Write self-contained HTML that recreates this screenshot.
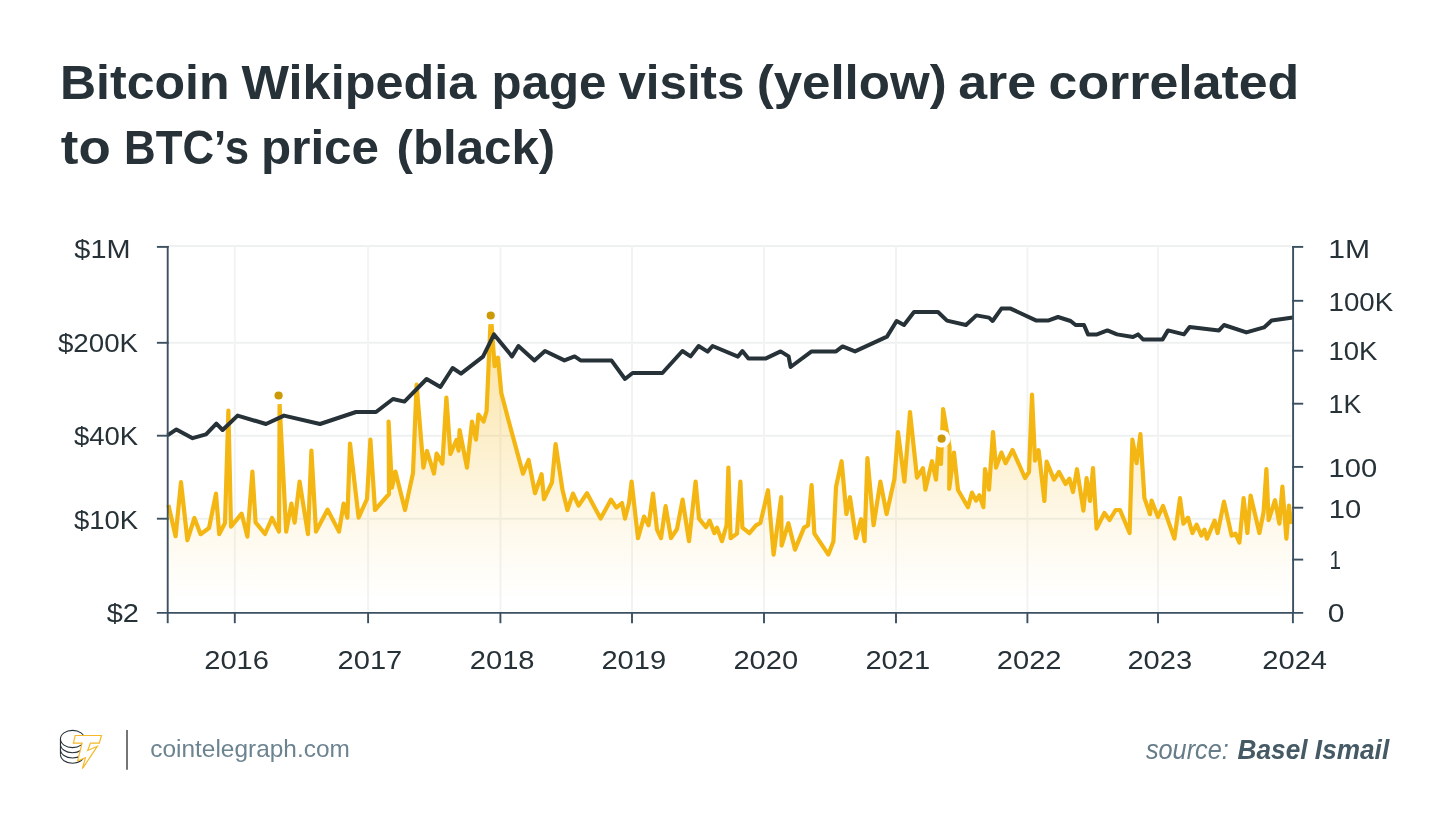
<!DOCTYPE html>
<html><head><meta charset="utf-8"><title>Bitcoin Wikipedia page visits</title><style>html,body{margin:0;padding:0;background:#fff}svg{display:block;will-change:transform}text{font-family:"Liberation Sans",sans-serif}</style></head><body>
<svg width="1450" height="830" viewBox="0 0 1450 830">
<defs><linearGradient id="g" x1="0" y1="325" x2="0" y2="600" gradientUnits="userSpaceOnUse"><stop offset="0" stop-color="#f4b612" stop-opacity="0.40"/><stop offset="0.527" stop-color="#f4b612" stop-opacity="0.17"/><stop offset="0.782" stop-color="#f4b612" stop-opacity="0.065"/><stop offset="1" stop-color="#f4b612" stop-opacity="0"/></linearGradient></defs>
<rect width="1450" height="830" fill="#fff"/>
<g stroke-width="2" fill="none">
<line x1="167.7" y1="246.1" x2="1291.5" y2="246.1" stroke="#eff1f1"/>
<line x1="167.7" y1="342.8" x2="1291.5" y2="342.8" stroke="#eff1f1"/>
<line x1="167.7" y1="435.7" x2="1291.5" y2="435.7" stroke="#eff1f1"/>
<line x1="167.7" y1="518.7" x2="1291.5" y2="518.7" stroke="#eff1f1"/>
<line x1="234.8" y1="246.1" x2="234.8" y2="612.9" stroke="#f2f3f3"/>
<line x1="368.1" y1="246.1" x2="368.1" y2="612.9" stroke="#f2f3f3"/>
<line x1="500.4" y1="246.1" x2="500.4" y2="612.9" stroke="#f2f3f3"/>
<line x1="632.0" y1="246.1" x2="632.0" y2="612.9" stroke="#f2f3f3"/>
<line x1="764.0" y1="246.1" x2="764.0" y2="612.9" stroke="#f2f3f3"/>
<line x1="896.0" y1="246.1" x2="896.0" y2="612.9" stroke="#f2f3f3"/>
<line x1="1027.4" y1="246.1" x2="1027.4" y2="612.9" stroke="#f2f3f3"/>
<line x1="1158.0" y1="246.1" x2="1158.0" y2="612.9" stroke="#f2f3f3"/>
</g>
<path d="M168.4,612.9 L168.4,505.0 L175.6,536.2 L181.0,482.2 L187.4,540.2 L194.4,518.0 L200.6,534.2 L209.0,528.0 L216.0,493.6 L219.2,534.2 L225.0,523.0 L228.4,410.6 L231.0,526.6 L241.6,513.6 L247.4,536.6 L252.4,471.6 L255.6,522.4 L265.0,534.0 L272.0,518.0 L279.0,531.6 L279.6,404.4 L286.2,531.6 L291.4,503.6 L294.6,522.6 L299.6,481.6 L308.0,534.2 L311.4,450.6 L316.0,531.6 L327.6,509.6 L339.0,531.6 L343.6,503.6 L347.4,517.6 L350.0,443.6 L358.6,517.6 L367.0,499.0 L370.4,439.6 L375.0,510.0 L389.0,494.0 L388.6,421.6 L392.0,487.6 L395.4,471.6 L405.0,510.0 L413.0,473.0 L416.6,384.6 L423.4,467.6 L427.0,451.0 L434.0,473.6 L436.6,453.6 L442.4,463.6 L446.4,397.6 L450.4,454.0 L456.4,440.0 L458.6,450.6 L459.6,430.0 L467.0,467.6 L472.0,421.6 L476.0,439.6 L478.4,414.6 L483.6,421.6 L486.6,411.0 L490.4,325.0 L491.6,325.0 L494.6,366.1 L498.0,357.6 L501.3,393.0 L508.4,420.0 L523.0,473.6 L528.6,460.0 L535.0,493.2 L541.6,474.2 L544.0,499.2 L552.0,482.4 L555.6,444.0 L562.4,489.4 L567.4,510.0 L573.0,493.6 L578.6,505.6 L587.0,493.2 L600.6,518.6 L611.0,499.6 L616.4,507.6 L622.0,503.0 L625.0,518.6 L629.0,503.0 L631.6,481.6 L638.0,538.2 L644.0,516.6 L648.6,525.2 L653.0,493.6 L657.0,529.6 L661.0,538.2 L665.6,506.2 L671.0,538.2 L677.0,529.0 L682.6,499.6 L689.0,541.2 L695.6,481.6 L699.0,518.6 L706.0,527.2 L709.6,520.6 L714.4,533.2 L717.0,527.6 L722.0,541.2 L726.6,525.0 L728.4,467.6 L730.6,538.2 L737.0,533.6 L740.4,481.6 L742.4,527.6 L749.4,533.2 L756.0,525.4 L760.4,523.0 L768.0,490.2 L773.6,554.6 L781.2,497.2 L781.6,545.6 L788.4,523.2 L795.0,549.6 L804.0,527.6 L808.0,525.4 L811.6,485.2 L814.4,533.6 L828.4,554.6 L833.4,541.6 L836.0,487.0 L841.6,461.2 L846.4,514.0 L850.0,497.2 L856.0,538.2 L861.0,519.2 L864.6,541.2 L867.4,458.0 L873.6,525.2 L880.4,481.6 L886.6,514.0 L894.4,479.0 L898.0,432.0 L904.4,481.6 L910.0,412.2 L917.0,477.6 L923.0,468.2 L925.4,489.6 L932.0,461.2 L936.0,479.6 L938.8,441.6 L941.0,464.0 L943.1,409.2 L949.6,447.0 L949.2,488.8 L954.0,452.6 L958.0,490.0 L968.0,507.2 L972.0,492.6 L976.0,500.6 L979.4,495.2 L983.4,507.2 L985.0,469.0 L989.0,489.6 L993.0,432.0 L996.0,467.6 L1001.4,452.6 L1005.6,463.2 L1012.6,450.0 L1025.0,478.0 L1029.0,472.0 L1032.0,394.6 L1035.0,460.6 L1038.6,450.2 L1044.4,501.0 L1046.6,461.6 L1054.0,479.6 L1059.0,472.0 L1065.6,484.0 L1069.4,478.6 L1073.0,492.0 L1077.0,469.2 L1083.4,510.6 L1086.6,478.2 L1090.0,501.0 L1093.0,468.2 L1096.6,528.6 L1104.4,513.0 L1109.6,520.0 L1115.6,510.0 L1120.0,510.0 L1129.6,533.0 L1132.4,439.6 L1136.6,463.2 L1140.4,434.2 L1144.4,498.0 L1150.0,514.2 L1151.6,500.6 L1158.0,517.0 L1163.0,506.0 L1174.4,538.6 L1180.0,498.2 L1183.4,523.6 L1188.0,517.6 L1192.4,533.0 L1196.6,524.6 L1201.4,535.6 L1204.4,529.6 L1207.0,538.6 L1214.6,520.6 L1217.6,533.0 L1224.0,501.6 L1231.6,535.6 L1235.4,533.6 L1239.4,542.6 L1243.6,498.2 L1247.4,533.0 L1250.6,495.6 L1259.4,533.0 L1263.6,512.0 L1266.4,469.2 L1268.6,520.2 L1275.0,500.2 L1279.4,523.6 L1282.4,486.6 L1286.4,538.6 L1289.0,505.6 L1291.0,524.0 L1291.0,612.9 Z" fill="url(#g)"/>
<polyline points="168.4,505.0 175.6,536.2 181.0,482.2 187.4,540.2 194.4,518.0 200.6,534.2 209.0,528.0 216.0,493.6 219.2,534.2 225.0,523.0 228.4,410.6 231.0,526.6 241.6,513.6 247.4,536.6 252.4,471.6 255.6,522.4 265.0,534.0 272.0,518.0 279.0,531.6 279.6,404.4 286.2,531.6 291.4,503.6 294.6,522.6 299.6,481.6 308.0,534.2 311.4,450.6 316.0,531.6 327.6,509.6 339.0,531.6 343.6,503.6 347.4,517.6 350.0,443.6 358.6,517.6 367.0,499.0 370.4,439.6 375.0,510.0 389.0,494.0 388.6,421.6 392.0,487.6 395.4,471.6 405.0,510.0 413.0,473.0 416.6,384.6 423.4,467.6 427.0,451.0 434.0,473.6 436.6,453.6 442.4,463.6 446.4,397.6 450.4,454.0 456.4,440.0 458.6,450.6 459.6,430.0 467.0,467.6 472.0,421.6 476.0,439.6 478.4,414.6 483.6,421.6 486.6,411.0 490.4,325.0 491.6,325.0 494.6,366.1 498.0,357.6 501.3,393.0 508.4,420.0 523.0,473.6 528.6,460.0 535.0,493.2 541.6,474.2 544.0,499.2 552.0,482.4 555.6,444.0 562.4,489.4 567.4,510.0 573.0,493.6 578.6,505.6 587.0,493.2 600.6,518.6 611.0,499.6 616.4,507.6 622.0,503.0 625.0,518.6 629.0,503.0 631.6,481.6 638.0,538.2 644.0,516.6 648.6,525.2 653.0,493.6 657.0,529.6 661.0,538.2 665.6,506.2 671.0,538.2 677.0,529.0 682.6,499.6 689.0,541.2 695.6,481.6 699.0,518.6 706.0,527.2 709.6,520.6 714.4,533.2 717.0,527.6 722.0,541.2 726.6,525.0 728.4,467.6 730.6,538.2 737.0,533.6 740.4,481.6 742.4,527.6 749.4,533.2 756.0,525.4 760.4,523.0 768.0,490.2 773.6,554.6 781.2,497.2 781.6,545.6 788.4,523.2 795.0,549.6 804.0,527.6 808.0,525.4 811.6,485.2 814.4,533.6 828.4,554.6 833.4,541.6 836.0,487.0 841.6,461.2 846.4,514.0 850.0,497.2 856.0,538.2 861.0,519.2 864.6,541.2 867.4,458.0 873.6,525.2 880.4,481.6 886.6,514.0 894.4,479.0 898.0,432.0 904.4,481.6 910.0,412.2 917.0,477.6 923.0,468.2 925.4,489.6 932.0,461.2 936.0,479.6 938.8,441.6 941.0,464.0 943.1,409.2 949.6,447.0 949.2,488.8 954.0,452.6 958.0,490.0 968.0,507.2 972.0,492.6 976.0,500.6 979.4,495.2 983.4,507.2 985.0,469.0 989.0,489.6 993.0,432.0 996.0,467.6 1001.4,452.6 1005.6,463.2 1012.6,450.0 1025.0,478.0 1029.0,472.0 1032.0,394.6 1035.0,460.6 1038.6,450.2 1044.4,501.0 1046.6,461.6 1054.0,479.6 1059.0,472.0 1065.6,484.0 1069.4,478.6 1073.0,492.0 1077.0,469.2 1083.4,510.6 1086.6,478.2 1090.0,501.0 1093.0,468.2 1096.6,528.6 1104.4,513.0 1109.6,520.0 1115.6,510.0 1120.0,510.0 1129.6,533.0 1132.4,439.6 1136.6,463.2 1140.4,434.2 1144.4,498.0 1150.0,514.2 1151.6,500.6 1158.0,517.0 1163.0,506.0 1174.4,538.6 1180.0,498.2 1183.4,523.6 1188.0,517.6 1192.4,533.0 1196.6,524.6 1201.4,535.6 1204.4,529.6 1207.0,538.6 1214.6,520.6 1217.6,533.0 1224.0,501.6 1231.6,535.6 1235.4,533.6 1239.4,542.6 1243.6,498.2 1247.4,533.0 1250.6,495.6 1259.4,533.0 1263.6,512.0 1266.4,469.2 1268.6,520.2 1275.0,500.2 1279.4,523.6 1282.4,486.6 1286.4,538.6 1289.0,505.6 1291.0,524.0" fill="none" stroke="#f4b612" stroke-width="4.2" stroke-linejoin="round" stroke-linecap="butt"/>
<polyline points="167.5,435.4 176.4,429.4 192.6,438.2 206.0,434.4 216.4,423.6 222.6,430.0 237.6,415.6 266.0,424.0 284.0,415.6 320.0,424.0 356.0,412.0 376.0,412.0 393.0,399.0 404.4,401.6 426.6,379.0 440.4,387.0 452.6,368.0 461.0,373.6 483.0,356.6 494.0,334.4 512.0,356.4 518.4,346.0 534.4,360.4 545.0,351.0 564.4,360.4 574.6,356.4 580.6,360.4 611.4,360.4 625.0,379.0 632.6,373.0 662.4,373.0 682.4,351.0 690.6,356.4 698.6,346.0 707.6,351.6 712.6,346.0 738.0,356.6 742.4,351.0 748.4,358.4 766.0,358.4 780.6,351.4 788.6,356.4 790.6,367.0 811.6,351.4 836.0,351.4 842.6,346.4 855.0,351.4 887.0,336.6 896.6,321.0 904.0,325.0 914.0,312.0 938.0,312.0 947.0,320.6 966.0,325.0 976.4,315.4 989.0,317.6 992.6,321.0 1001.4,308.6 1010.6,308.6 1036.4,320.6 1048.0,320.6 1058.0,317.0 1070.6,321.0 1075.6,325.0 1084.0,325.0 1088.0,334.4 1097.0,334.4 1107.4,330.4 1117.0,334.4 1133.0,337.0 1138.0,334.4 1143.0,339.4 1162.6,339.4 1168.0,330.4 1184.0,334.4 1189.6,327.0 1219.0,330.4 1224.0,325.0 1246.4,332.4 1264.0,327.4 1271.6,320.6 1293.0,317.6" fill="none" stroke="#263238" stroke-width="4" stroke-linejoin="round" stroke-linecap="butt"/>
<circle cx="278.6" cy="395.5" r="8.8" fill="#fff"/>
<circle cx="490.7" cy="315.5" r="8.8" fill="#fff"/>
<circle cx="941.6" cy="438.7" r="8.8" fill="#fff"/>
<circle cx="278.6" cy="395.5" r="4.1" fill="#cc9a06"/>
<circle cx="490.7" cy="315.5" r="4.1" fill="#cc9a06"/>
<circle cx="941.6" cy="438.7" r="4.1" fill="#cc9a06"/>
<g stroke="#3b5061" stroke-width="1.9" fill="none">
<line x1="167.7" y1="245.9" x2="167.7" y2="612.9"/>
<line x1="1293.1" y1="245.9" x2="1293.1" y2="612.9"/>
<line x1="156.8" y1="612.9" x2="1303.2" y2="612.9"/>
<line x1="156.9" y1="246.9" x2="168.6" y2="246.9"/>
<line x1="156.9" y1="342.8" x2="168.6" y2="342.8"/>
<line x1="156.9" y1="435.7" x2="168.6" y2="435.7"/>
<line x1="156.9" y1="518.7" x2="168.6" y2="518.7"/>
<line x1="1292.1" y1="246.9" x2="1303.2" y2="246.9"/>
<line x1="1292.1" y1="300.8" x2="1303.2" y2="300.8"/>
<line x1="1292.1" y1="350.7" x2="1303.2" y2="350.7"/>
<line x1="1292.1" y1="403.7" x2="1303.2" y2="403.7"/>
<line x1="1292.1" y1="466.9" x2="1303.2" y2="466.9"/>
<line x1="1292.1" y1="507.7" x2="1303.2" y2="507.7"/>
<line x1="1292.1" y1="559.6" x2="1303.2" y2="559.6"/>
<line x1="167.7" y1="612.9" x2="167.7" y2="623.2"/>
<line x1="234.8" y1="612.9" x2="234.8" y2="623.2"/>
<line x1="368.1" y1="612.9" x2="368.1" y2="623.2"/>
<line x1="500.4" y1="612.9" x2="500.4" y2="623.2"/>
<line x1="632.0" y1="612.9" x2="632.0" y2="623.2"/>
<line x1="764.0" y1="612.9" x2="764.0" y2="623.2"/>
<line x1="896.0" y1="612.9" x2="896.0" y2="623.2"/>
<line x1="1027.4" y1="612.9" x2="1027.4" y2="623.2"/>
<line x1="1158.0" y1="612.9" x2="1158.0" y2="623.2"/>
<line x1="1292.9" y1="612.9" x2="1292.9" y2="623.2"/>
</g>
<text transform="translate(59.97,99.2) scale(1.0252,1)" font-size="48.8" fill="#263238" font-weight="700">Bitcoin</text>
<text transform="translate(241.50,99.2) scale(1.0327,1)" font-size="48.8" fill="#263238" font-weight="700">Wikipedia</text>
<text transform="translate(491.62,99.2) scale(1.0083,1)" font-size="48.8" fill="#263238" font-weight="700">page</text>
<text transform="translate(618.45,99.2) scale(1.0090,1)" font-size="48.8" fill="#263238" font-weight="700">visits</text>
<text transform="translate(756.68,99.2) scale(1.0461,1)" font-size="48.8" fill="#263238" font-weight="700">(yellow)</text>
<text transform="translate(958.20,99.2) scale(1.0643,1)" font-size="48.8" fill="#263238" font-weight="700">are</text>
<text transform="translate(1048.57,99.2) scale(1.0626,1)" font-size="48.8" fill="#263238" font-weight="700">correlated</text>
<text transform="translate(60.86,163.5) scale(1.0834,1)" font-size="48.8" fill="#263238" font-weight="700">to</text>
<text transform="translate(124.08,163.5) scale(0.8978,1)" font-size="48.8" fill="#263238" font-weight="700">BTC’s</text>
<text transform="translate(261.01,163.5) scale(1.0121,1)" font-size="48.8" fill="#263238" font-weight="700">price</text>
<text transform="translate(396.48,163.5) scale(1.0095,1)" font-size="48.8" fill="#263238" font-weight="700">(black)</text>
<text transform="translate(74.33,257.8) scale(1.0939,1)" font-size="26.4" fill="#263238">$1M</text>
<text transform="translate(57.94,352.4) scale(1.0508,1)" font-size="26.4" fill="#263238">$200K</text>
<text transform="translate(73.94,445.4) scale(1.0426,1)" font-size="26.4" fill="#263238">$40K</text>
<text transform="translate(73.94,528.5) scale(1.0426,1)" font-size="26.4" fill="#263238">$10K</text>
<text transform="translate(106.73,622.4) scale(1.0991,1)" font-size="26.4" fill="#263238">$2</text>
<text transform="translate(1328.32,257.7) scale(1.1415,1)" font-size="26.4" fill="#263238">1M</text>
<text transform="translate(1328.50,310.5) scale(1.0481,1)" font-size="26.4" fill="#263238">100K</text>
<text transform="translate(1328.51,360.4) scale(1.0427,1)" font-size="26.4" fill="#263238">10K</text>
<text transform="translate(1328.57,413.4) scale(1.0133,1)" font-size="26.4" fill="#263238">1K</text>
<text transform="translate(1328.59,476.5) scale(1.1049,1)" font-size="26.4" fill="#263238">100</text>
<text transform="translate(1328.79,517.6) scale(1.1048,1)" font-size="26.4" fill="#263238">10</text>
<text transform="translate(1329.53,569.4) scale(0.7826,1)" font-size="26.4" fill="#263238">1</text>
<text transform="translate(1327.76,622.3) scale(1.1373,1)" font-size="26.4" fill="#263238">0</text>
<text transform="translate(150.28,757.0) scale(1.0181,1)" font-size="24" fill="#6c8390">cointelegraph.com</text>
<text transform="translate(1145.90,759.4) scale(0.9371,1)" font-size="27" fill="#667c89" font-style="italic">source:</text>
<text transform="translate(1237.61,759.4) scale(0.9712,1)" font-size="27" fill="#455a64" font-weight="700" font-style="italic">Basel Ismail</text>
<g font-size="26.4" fill="#263238" text-anchor="middle">
<text transform="translate(236.6,668.9) scale(1.1022,1)">2016</text>
<text transform="translate(369.9,668.9) scale(1.1022,1)">2017</text>
<text transform="translate(502.2,668.9) scale(1.1022,1)">2018</text>
<text transform="translate(633.8,668.9) scale(1.1022,1)">2019</text>
<text transform="translate(765.8,668.9) scale(1.1022,1)">2020</text>
<text transform="translate(897.8,668.9) scale(1.1022,1)">2021</text>
<text transform="translate(1029.2,668.9) scale(1.1022,1)">2022</text>
<text transform="translate(1159.8,668.9) scale(1.1022,1)">2023</text>
<text transform="translate(1294.7,668.9) scale(1.1022,1)">2024</text>
</g>
<g fill="none" stroke="#263238" stroke-width="1.1">
<ellipse cx="72.5" cy="739" rx="12.05" ry="8.6"/>
<path d="M60.45,739 V754.6"/>
<path d="M60.45,744.2 A12.05,8.6 0 0 0 84.55,744.2"/>
<path d="M60.45,749.4 A12.05,8.6 0 0 0 84.55,749.4"/>
<path d="M60.45,754.6 A12.05,8.6 0 0 0 84.55,754.6"/>
</g>
<path d="M75.2,735.5 L101.4,735.5 L99.3,743.1 L90.5,743.1 L87.7,750.5 L97.3,746.3 L82.4,768.7 L85.4,757.8 L77.6,761.1 L82.1,743.2 L73.4,743.1 Z" fill="#fff" stroke="#f5b829" stroke-width="1.2" stroke-linejoin="miter"/>
<line x1="127" y1="730" x2="127" y2="769.8" stroke="#757575" stroke-width="2"/>
</svg></body></html>
